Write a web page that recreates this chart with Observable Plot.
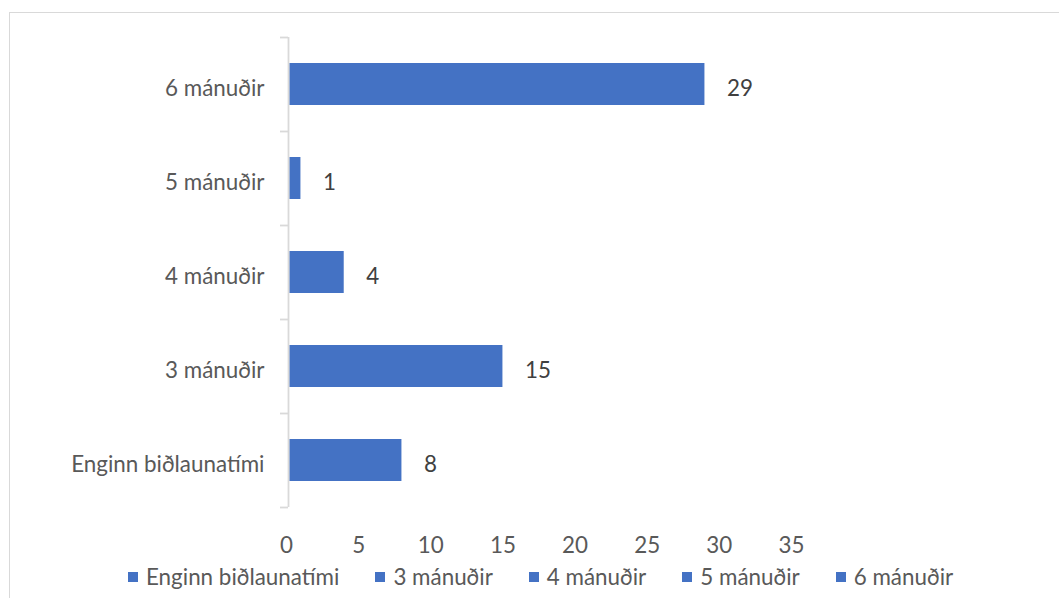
<!DOCTYPE html>
<html><head><meta charset="utf-8">
<script src="https://cdn.jsdelivr.net/npm/d3@7"></script>
<script src="https://cdn.jsdelivr.net/npm/@observablehq/plot@0.6"></script>
<style>
html,body{margin:0;padding:0;background:#fff;overflow:hidden;width:1059px;height:598px;position:relative;}
#frame{position:absolute;left:9px;top:12px;width:2000px;height:2000px;border-top:1.5px solid #d9d9d9;border-left:1.5px solid #d9d9d9;}
#chart{position:absolute;left:0;top:0;}
#legend{position:absolute;left:128px;top:563px;display:flex;align-items:center;font-family:Lato,sans-serif;font-size:22.4px;line-height:28px;color:#595959;white-space:nowrap;}
#legend .item{display:flex;align-items:center;margin-right:36px;}
#legend .sw{width:10px;height:10px;margin-right:8px;}
</style>
</head><body>
<div id="frame"></div>
<div id="chart"></div>
<div id="legend"></div>
<script>
const categories = ["Enginn biðlaunatími", "3 mánuðir", "4 mánuðir", "5 mánuðir", "6 mánuðir"];
const values = [8, 15, 4, 1, 29];
const xTicks = [0, 5, 10, 15, 20, 25, 30, 35];
const barColor = "#4472C4";

const data = categories.map((c, i) => ({category: c, value: values[i]}));
const step = (507 - 37) / categories.length;
const tickLen = 8 / 14.43;

const chart = Plot.plot({
  width: 1059,
  height: 560,
  marginLeft: 286,
  marginRight: 268,
  marginTop: 37,
  marginBottom: 53,
  style: {fontFamily: "Lato, sans-serif", fontSize: "22.4px", color: "#595959", background: "transparent"},
  x: {domain: [0, 35], label: null},
  y: {domain: categories.slice().reverse(), paddingInner: 0.553, paddingOuter: 0.2765, label: null},
  marks: [
    Plot.barX(data, {x: "value", y: "category", fill: barColor, insetLeft: 3.3}),
    Plot.ruleX([0], {stroke: "#d9d9d9", strokeWidth: 1.8, dx: 2}),
    Plot.ruleY(categories, {y: d => d, x1: -tickLen, x2: 0, dx: 2, dy: -step / 2, stroke: "#d9d9d9", strokeWidth: 1.8}),
    Plot.ruleY([categories[0]], {y: d => d, x1: -tickLen, x2: 0, dx: 2, dy: step / 2, stroke: "#d9d9d9", strokeWidth: 1.8}),
    Plot.text(data, {x: "value", y: "category", text: d => String(d.value), dx: 22, dy: 4.5, textAnchor: "start", fill: "#404040"}),
    Plot.axisX({ticks: xTicks, tickSize: 0, tickPadding: 30, tickFormat: d => String(d)}),
    Plot.axisY({tickSize: 0, tickPadding: 22, dy: 4.5})
  ]
});
document.getElementById("chart").appendChild(chart);

const legend = document.getElementById("legend");
categories.forEach(c => {
  const item = document.createElement("div");
  item.className = "item";
  const sw = document.createElement("span");
  sw.className = "sw";
  sw.style.background = barColor;
  const t = document.createElement("span");
  t.textContent = c;
  item.appendChild(sw);
  item.appendChild(t);
  legend.appendChild(item);
});
</script>
</body></html>
